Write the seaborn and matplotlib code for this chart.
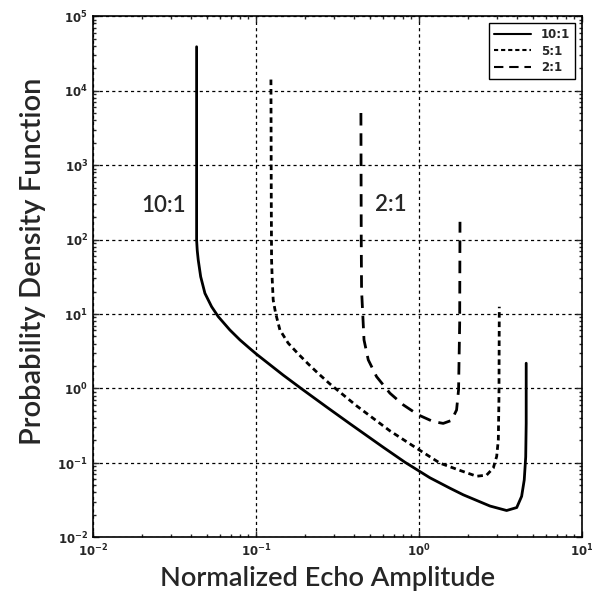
import numpy as np
import pandas as pd
import seaborn as sns
import matplotlib.pyplot as plt

# curves (normalized amplitude, pdf)
x_10 = [0.04325, 0.04325, 0.04325, 0.04365, 0.04426, 0.04581, 0.04864, 0.05346, 0.05875, 0.06918,
        0.0798, 0.09183, 0.1009, 0.1469, 0.1905, 0.2716, 0.3776, 0.6039, 0.8204, 1.167,
        1.549, 1.871, 2.729, 3.451, 3.981, 4.266, 4.426, 4.519, 4.55, 4.55]
y_10 = [38900, 1000, 98.4, 70.8, 53.1, 31.7, 18.97, 12.53, 9.2, 6.1,
        4.48, 3.43, 2.88, 1.51, 0.989, 0.562, 0.335, 0.162, 0.102, 0.0631,
        0.0457, 0.0372, 0.0263, 0.0229, 0.0251, 0.0355, 0.0589, 0.120, 0.339, 2.18]

x_5 = [0.1236, 0.1242, 0.1247, 0.1259, 0.1276, 0.1321, 0.1403, 0.1578, 0.182, 0.2094,
       0.241, 0.2844, 0.415, 0.6637, 1.005, 1.346, 1.778, 2.259, 2.60, 2.858,
       2.999, 3.069, 3.097, 3.112]
y_5 = [14100, 316, 53.1, 28.6, 15.4, 10.2, 6.1, 4.05, 2.90, 2.13,
       1.59, 1.148, 0.582, 0.269, 0.149, 0.0991, 0.0794, 0.0661, 0.0684, 0.0851,
       0.122, 0.204, 0.776, 12.5]

x_2 = [0.4406, 0.4426, 0.4446, 0.4519, 0.4603, 0.4887, 0.5495, 0.6637, 0.8017, 0.9908,
       1.225, 1.409, 1.585, 1.702, 1.75, 1.778, 1.786]
y_2 = [5010, 100, 21.0, 10.2, 4.48, 2.42, 1.44, 0.863, 0.601, 0.441,
       0.358, 0.339, 0.372, 0.514, 0.955, 7.5, 173]

ratios = ['10:1', '5:1', '2:1']
xtick_vals = [1e-2, 1e-1, 1e0, 1e1]
xtick_text = [r'$\mathbf{10^{-2}}$', r'$\mathbf{10^{-1}}$', r'$\mathbf{10^{0}}$', r'$\mathbf{10^{1}}$']
ytick_vals = [1e-2, 1e-1, 1e0, 1e1, 1e2, 1e3, 1e4, 1e5]
ytick_text = [r'$\mathbf{10^{%d}}$' % k for k in range(-2, 6)]

df = pd.concat([
    pd.DataFrame({'x': x_10, 'y': y_10, 'ratio': '10:1'}),
    pd.DataFrame({'x': x_5, 'y': y_5, 'ratio': '5:1'}),
    pd.DataFrame({'x': x_2, 'y': y_2, 'ratio': '2:1'}),
], ignore_index=True)

sns.set_style('ticks')
plt.rcParams['font.family'] = ['Lato', 'DejaVu Sans']
plt.rcParams['mathtext.fontset'] = 'dejavusans'

fig = plt.figure(figsize=(5.92, 6.01), dpi=100)
ax = fig.add_axes([0.157, 0.106, 0.826, 0.867])

dash_map = {'10:1': '', '5:1': (2, 1.4), '2:1': (4.5, 2.8)}
sns.lineplot(data=df, x='x', y='y', hue='ratio', style='ratio', hue_order=ratios,
             style_order=ratios, palette=['black'] * 3, dashes=dash_map,
             sort=False, estimator=None, linewidth=2, ax=ax)

ax.set_xscale('log')
ax.set_yscale('log')
ax.set_xlim(1e-2, 1e1)
ax.set_ylim(1e-2, 1e5)

ax.set_xticks(xtick_vals)
ax.set_xticklabels(xtick_text, fontsize=8.5)
ax.set_yticks(ytick_vals)
ax.set_yticklabels(ytick_text, fontsize=8.5)
ax.tick_params(which='both', direction='in', top=True, right=True, width=1)
ax.tick_params(which='major', length=4)
ax.tick_params(which='minor', length=2.5)

ax.grid(True, which='major', color='black', linestyle=(0, (2.5, 2.5)), linewidth=0.9)
for s in ax.spines.values():
    s.set_color('black')
    s.set_linewidth(1.2)

ax.text(0.0273, 290, '10:1', fontsize=16, fontweight='semibold', ha='center', va='center')
ax.text(0.668, 300, '2:1', fontsize=16, fontweight='semibold', ha='center', va='center')

ax.set_xlabel('Normalized Echo Amplitude', fontsize=19.5, fontweight='semibold')
ax.set_ylabel('Probability Density Function', fontsize=21, fontweight='semibold')
ax.xaxis.set_label_coords(0.48, -0.055)
ax.yaxis.set_label_coords(-0.097, 0.53)

handles, labels = ax.get_legend_handles_labels()
leg = ax.legend(handles, labels, loc='upper right', fancybox=False, framealpha=1,
                edgecolor='black', prop={'weight': 'bold', 'size': 8.5, 'family': 'DejaVu Sans'},
                handlelength=3.2, borderaxespad=0.6, labelspacing=0.3)
leg.get_frame().set_linewidth(1)
for h in leg.get_lines():
    h.set_linewidth(1.5)

fig.savefig('out.png', dpi=100)
